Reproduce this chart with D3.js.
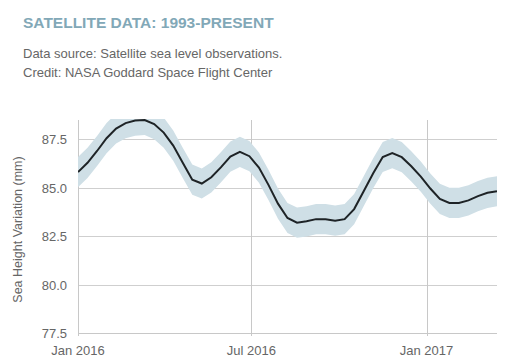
<!DOCTYPE html>
<html><head><meta charset="utf-8">
<script src="https://cdn.jsdelivr.net/npm/d3@7"></script>
<style>
html,body{margin:0;padding:0;background:#fff;}
svg{display:block;font-family:"Liberation Sans",Arial,sans-serif;}
</style></head>
<body><svg id="c" width="515" height="364"></svg>
<script>
const startDate = "2016-01-01";
const stepDays = 10;
const seaLevel = [85.81,86.29,86.90,87.56,88.06,88.34,88.47,88.50,88.29,87.85,
  87.18,86.29,85.42,85.22,85.54,86.05,86.61,86.85,86.63,86.04,
  85.15,84.18,83.44,83.20,83.27,83.38,83.38,83.30,83.38,83.90,
  84.82,85.75,86.59,86.79,86.58,86.11,85.58,84.96,84.43,84.22,
  84.22,84.35,84.57,84.74,84.82];
const uncertainty = [0.78,0.78,0.78,0.78,0.78,0.78,0.78,0.78,0.78,0.78,
  0.78,0.78,0.78,0.78,0.78,0.78,0.78,0.78,0.78,0.78,
  0.78,0.78,0.78,0.78,0.78,0.78,0.78,0.78,0.78,0.78,
  0.78,0.78,0.78,0.78,0.78,0.78,0.78,0.78,0.78,0.78,
  0.78,0.78,0.78,0.78,0.78];
const yTicks = [77.5, 80.0, 82.5, 85.0, 87.5];
const xTickDates = ["2016-01-01","2016-07-01","2017-01-01"];
const xTickLabels = ["Jan 2016","Jul 2016","Jan 2017"];

const parse = d3.utcParse("%Y-%m-%d");
const t0 = parse(startDate);
const data = seaLevel.map((v,i)=>({date:d3.utcDay.offset(t0, i*stepDays), v, e:uncertainty[i]}));

const svg = d3.select("#c");
const pL = 78, pR = 497, pT = 120, pB = 333;
const x = d3.scaleUtc().domain([t0, data[data.length-1].date]).range([pL, pR]);
const y = d3.scaleLinear().domain([77.5, 88.5]).range([pB, pT]);

// titles
svg.append("text").attr("x",23).attr("y",28).attr("fill","#82a8b7")
  .attr("font-size","15.5px").attr("font-weight","bold").text("SATELLITE DATA: 1993-PRESENT");
svg.append("text").attr("x",23).attr("y",58).attr("fill","#666")
  .attr("font-size","13px").text("Data source: Satellite sea level observations.");
svg.append("text").attr("x",23).attr("y",77).attr("fill","#666")
  .attr("font-size","13px").text("Credit: NASA Goddard Space Flight Center");

// grid
const g = svg.append("g");
g.selectAll("line.h").data(yTicks).join("line")
  .attr("x1",pL).attr("x2",pR)
  .attr("y1",d=>Math.round(y(d))+0.5).attr("y2",d=>Math.round(y(d))+0.5)
  .attr("stroke",d=>d===77.5?"#c8c8c8":"#cfcfcf").attr("stroke-width",1);
g.selectAll("line.v").data(xTickDates).join("line")
  .attr("x1",d=>Math.round(x(parse(d)))+0.5).attr("x2",d=>Math.round(x(parse(d)))+0.5)
  .attr("y1",pT).attr("y2",pB+3)
  .attr("stroke","#c8c8c8").attr("stroke-width",1);

// labels
g.selectAll("text.yt").data(yTicks).join("text")
  .attr("x",67).attr("y",d=>y(d)+5).attr("text-anchor","end")
  .attr("fill","#666").attr("font-size","13px").text(d=>d3.format(".1f")(d));
g.selectAll("text.xt").data(xTickDates).join("text")
  .attr("x",d=>x(parse(d))).attr("y",355).attr("text-anchor","middle")
  .attr("fill","#666").attr("font-size","13px").text((d,i)=>xTickLabels[i]);
svg.append("text").attr("transform",`translate(22,${(pT+pB)/2+3}) rotate(-90)`)
  .attr("text-anchor","middle").attr("fill","#666").attr("font-size","12.5px")
  .text("Sea Height Variation (mm)");

// clip
svg.append("clipPath").attr("id","clip").append("rect")
  .attr("x",pL).attr("y",pT-1).attr("width",pR-pL).attr("height",pB-pT+1);
const plot = svg.append("g").attr("clip-path","url(#clip)");
plot.append("path").datum(data)
  .attr("d", d3.area().x(d=>x(d.date)).y0(d=>y(d.v-d.e)).y1(d=>y(d.v+d.e)))
  .attr("fill","#cfdfe6");
plot.append("path").datum(data)
  .attr("d", d3.line().x(d=>x(d.date)).y(d=>y(d.v)))
  .attr("fill","none").attr("stroke","#1e2326").attr("stroke-width",2);
</script></body></html>
